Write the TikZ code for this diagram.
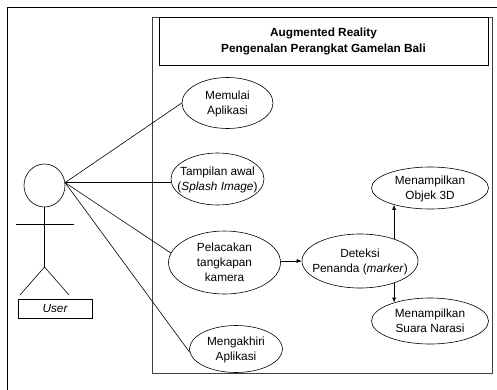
\documentclass[tikz,border=0pt]{standalone}
\usepackage{fontspec}
\setmainfont{Liberation Sans}
\usetikzlibrary{shapes.geometric,arrows.meta}
\newcommand\uct[1]{\makebox[0pt]{\raisebox{-0.33em}[0pt][0pt]{\begin{tabular}{@{}c@{}}#1\end{tabular}}}}
\begin{document}
\begin{tikzpicture}[x=1pt,y=-1pt,
  ln/.style={line width=0.6pt},
  uc/.style={draw, ellipse, inner sep=0pt, line width=0.6pt, font=\fontsize{11.8}{15}\selectfont},
  arr/.style={line width=0.6pt, -{Latex[length=5pt,width=4pt]}}]
\useasboundingbox (0,0) rectangle (497,389);
\clip (0,0) rectangle (497,389);
\fill[white] (0,0) rectangle (497,389);
% outer frame
\draw[line width=0.8pt] (7,7) rectangle (510,400);
% system boundary
\draw[line width=0.9pt, black!75] (152,17) rectangle (492,373);
\node[draw, line width=0.6pt, minimum width=329pt, minimum height=48pt, inner sep=0pt,
      font=\fontsize{11.8}{16}\selectfont\bfseries, align=center] (title) at (323.5,41)
      {Augmented Reality\\Pengenalan Perangkat Gamelan Bali};
% use cases
\node[uc, minimum width=91pt, minimum height=51pt] (uc1) at (227.5,103) {\uct{Memulai\\Aplikasi}};
\node[uc, minimum width=93pt, minimum height=52pt] (uc2) at (217.5,179) {\uct{Tampilan awal\\(\textit{Splash Image})}};
\node[uc, minimum width=112pt, minimum height=63pt] (uc3) at (224.5,262.5) {\uct{Pelacakan\\tangkapan\\kamera}};
\node[uc, minimum width=93pt, minimum height=47pt] (uc4) at (236,349) {\uct{Mengakhiri\\Aplikasi}};
\node[uc, minimum width=116pt, minimum height=54pt] (uc5) at (360,261) {\uct{Deteksi\\Penanda (\textit{marker})}};
\node[uc, minimum width=117pt, minimum height=42pt] (uc6) at (430,188) {\uct{Menampilkan\\Objek 3D}};
\node[uc, minimum width=117pt, minimum height=46pt] (uc7) at (430,321) {\uct{Menampilkan\\Suara Narasi}};
% actor
\node[draw, ellipse, ln, minimum width=41pt, minimum height=43pt, inner sep=0pt] (head) at (44.5,185.5) {};
\coordinate (hip) at (44.5,267);
\coordinate (armL) at (16,224);
\coordinate (armR) at (74,224);
\coordinate (footL) at (20,295);
\coordinate (footR) at (69,295);
\draw[ln] (head.south) -- (hip);
\draw[ln] (armL) -- (armR);
\draw[ln] (footL) -- (hip) -- (footR);
\node[draw, ln, minimum width=74pt, minimum height=19pt, inner sep=0pt,
      font=\fontsize{11.8}{14}\selectfont\itshape] (user) at (55,308.5) {User};
\coordinate (ac) at (head.8);
% associations
\draw[ln] (ac) -- (uc1.west);
\draw[ln] (ac) -- (ac -| uc2.west);
\draw[ln] (ac) -- (uc3.170);
\draw[ln] (ac) -- (uc4.184);
% flows
\draw[arr] (uc5.west -| uc3.east) -- (uc5.west);
\draw[arr] (uc5.33) -- (uc5.33 |- uc6.205);
\draw[arr] (uc5.-33) -- (uc5.-33 |- uc7.153);
\end{tikzpicture}
\end{document}
